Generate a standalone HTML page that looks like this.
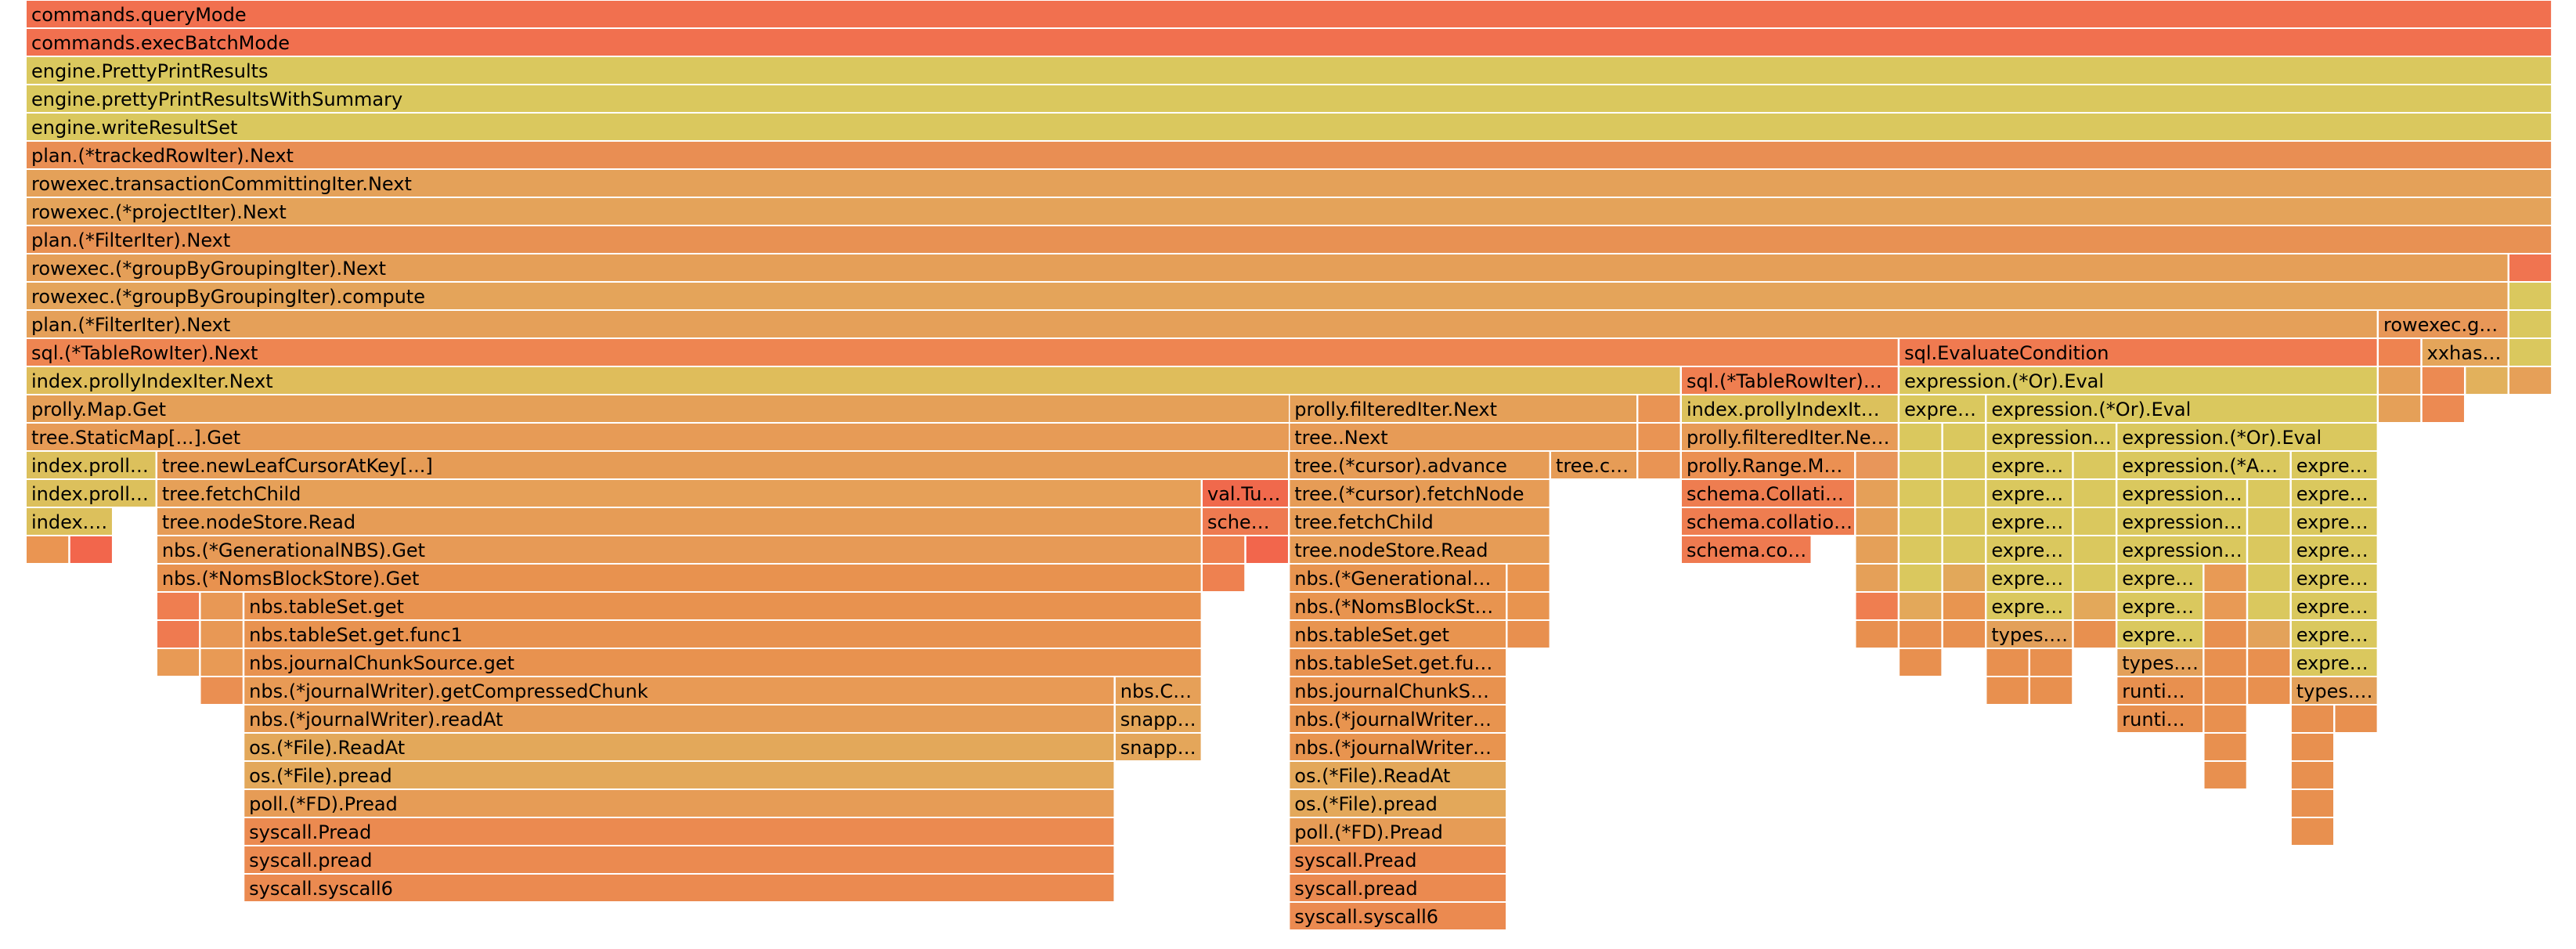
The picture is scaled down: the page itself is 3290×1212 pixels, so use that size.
<!DOCTYPE html>
<html><head><meta charset="utf-8"><style>
html,body{margin:0;padding:0;background:#fff;}
svg{display:block;}
text{font-family:"DejaVu Sans","Liberation Sans",sans-serif;font-size:24px;fill:#000;}
</style></head><body>
<svg xmlns="http://www.w3.org/2000/svg" width="3290" height="1212" viewBox="0 0 3290 1212">
<rect width="3290" height="1212" fill="#fff"/>
<!-- r0 -->
<svg x="34" y="1" width="3224.24" height="34"><rect width="100%" height="100%" fill="#f1704f"/><text x="6" y="26">commands.queryMode</text></svg>
<!-- r1 -->
<svg x="34" y="37" width="3224.24" height="34"><rect width="100%" height="100%" fill="#f1704f"/><text x="6" y="26">commands.execBatchMode</text></svg>
<!-- r2-4 -->
<svg x="34" y="73" width="3224.24" height="34"><rect width="100%" height="100%" fill="#dac85e"/><text x="6" y="26">engine.PrettyPrintResults</text></svg>
<svg x="34" y="109" width="3224.24" height="34"><rect width="100%" height="100%" fill="#dac85e"/><text x="6" y="26">engine.prettyPrintResultsWithSummary</text></svg>
<svg x="34" y="145" width="3224.24" height="34"><rect width="100%" height="100%" fill="#dac85e"/><text x="6" y="26">engine.writeResultSet</text></svg>
<!-- r5-8 -->
<svg x="34" y="181" width="3224.24" height="34"><rect width="100%" height="100%" fill="#e98e53"/><text x="6" y="26">plan.(*trackedRowIter).Next</text></svg>
<svg x="34" y="217" width="3224.24" height="34"><rect width="100%" height="100%" fill="#e4a159"/><text x="6" y="26">rowexec.transactionCommittingIter.Next</text></svg>
<svg x="34" y="253" width="3224.24" height="34"><rect width="100%" height="100%" fill="#e4a35a"/><text x="6" y="26">rowexec.(*projectIter).Next</text></svg>
<svg x="34" y="289" width="3224.24" height="34"><rect width="100%" height="100%" fill="#e89153"/><text x="6" y="26">plan.(*FilterIter).Next</text></svg>
<!-- r9 -->
<svg x="34" y="325" width="3168.61" height="34"><rect width="100%" height="100%" fill="#e59f58"/><text x="6" y="26">rowexec.(*groupByGroupingIter).Next</text></svg>
<svg x="3204.91" y="325" width="53.33" height="34"><rect width="100%" height="100%" fill="#f07450"/></svg>
<!-- r10 -->
<svg x="34" y="361" width="3168.61" height="34"><rect width="100%" height="100%" fill="#e4a45a"/><text x="6" y="26">rowexec.(*groupByGroupingIter).compute</text></svg>
<svg x="3204.91" y="361" width="53.33" height="34"><rect width="100%" height="100%" fill="#dac85e"/></svg>
<!-- r11 -->
<svg x="34" y="397" width="3001.72" height="34"><rect width="100%" height="100%" fill="#e5a059"/><text x="6" y="26">plan.(*FilterIter).Next</text></svg>
<svg x="3038.02" y="397" width="164.59" height="34"><rect width="100%" height="100%" fill="#e89757"/><text x="6" y="26">rowexec.g…</text></svg>
<svg x="3204.91" y="397" width="53.33" height="34"><rect width="100%" height="100%" fill="#dac85e"/></svg>
<!-- r12 -->
<svg x="34" y="433" width="2389.79" height="34"><rect width="100%" height="100%" fill="#ee8551"/><text x="6" y="26">sql.(*TableRowIter).Next</text></svg>
<svg x="2426.09" y="433" width="609.63" height="34"><rect width="100%" height="100%" fill="#f07a50"/><text x="6" y="26">sql.EvaluateCondition</text></svg>
<svg x="3038.02" y="433" width="53.33" height="34"><rect width="100%" height="100%" fill="#ee8350"/></svg>
<svg x="3093.65" y="433" width="108.96" height="34"><rect width="100%" height="100%" fill="#e4a55a"/><text x="6" y="26">xxhas…</text></svg>
<svg x="3204.91" y="433" width="53.33" height="34"><rect width="100%" height="100%" fill="#dac85e"/></svg>
<!-- r13 -->
<svg x="34" y="469" width="2111.64" height="34"><rect width="100%" height="100%" fill="#dfbd5b"/><text x="6" y="26">index.prollyIndexIter.Next</text></svg>
<svg x="2147.94" y="469" width="275.85" height="34"><rect width="100%" height="100%" fill="#ef7e50"/><text x="6" y="26">sql.(*TableRowIter)…</text></svg>
<svg x="2426.09" y="469" width="609.63" height="34"><rect width="100%" height="100%" fill="#dac85e"/><text x="6" y="26">expression.(*Or).Eval</text></svg>
<svg x="3038.02" y="469" width="53.33" height="34"><rect width="100%" height="100%" fill="#e5a058"/></svg>
<svg x="3093.65" y="469" width="53.33" height="34"><rect width="100%" height="100%" fill="#ec8a52"/></svg>
<svg x="3149.28" y="469" width="53.33" height="34"><rect width="100%" height="100%" fill="#e2b15c"/></svg>
<svg x="3204.91" y="469" width="53.33" height="34"><rect width="100%" height="100%" fill="#e6a058"/></svg>
<!-- r14 -->
<svg x="34" y="505" width="1611.97" height="34"><rect width="100%" height="100%" fill="#e5a058"/><text x="6" y="26">prolly.Map.Get</text></svg>
<svg x="1647.27" y="505" width="442.74" height="34"><rect width="100%" height="100%" fill="#e5a058"/><text x="6" y="26">prolly.filteredIter.Next</text></svg>
<svg x="2092.31" y="505" width="53.33" height="34"><rect width="100%" height="100%" fill="#e99454"/></svg>
<svg x="2147.94" y="505" width="275.85" height="34"><rect width="100%" height="100%" fill="#dcc15c"/><text x="6" y="26">index.prollyIndexIt…</text></svg>
<svg x="2426.09" y="505" width="108.96" height="34"><rect width="100%" height="100%" fill="#dac85e"/><text x="6" y="26">expre…</text></svg>
<svg x="2537.35" y="505" width="498.37" height="34"><rect width="100%" height="100%" fill="#dac85e"/><text x="6" y="26">expression.(*Or).Eval</text></svg>
<svg x="3038.02" y="505" width="53.33" height="34"><rect width="100%" height="100%" fill="#e5a058"/></svg>
<svg x="3093.65" y="505" width="53.33" height="34"><rect width="100%" height="100%" fill="#ec8a52"/></svg>
<!-- r15 -->
<svg x="34" y="541" width="1611.97" height="34"><rect width="100%" height="100%" fill="#e79b56"/><text x="6" y="26">tree.StaticMap[...].Get</text></svg>
<svg x="1647.27" y="541" width="442.74" height="34"><rect width="100%" height="100%" fill="#e79b56"/><text x="6" y="26">tree..Next</text></svg>
<svg x="2092.31" y="541" width="53.33" height="34"><rect width="100%" height="100%" fill="#e99454"/></svg>
<svg x="2147.94" y="541" width="275.85" height="34"><rect width="100%" height="100%" fill="#e79b56"/><text x="6" y="26">prolly.filteredIter.Ne…</text></svg>
<svg x="2426.09" y="541" width="53.33" height="34"><rect width="100%" height="100%" fill="#dac85e"/></svg>
<svg x="2481.72" y="541" width="53.33" height="34"><rect width="100%" height="100%" fill="#dac85e"/></svg>
<svg x="2537.35" y="541" width="164.59" height="34"><rect width="100%" height="100%" fill="#dac85e"/><text x="6" y="26">expression…</text></svg>
<svg x="2704.24" y="541" width="331.48" height="34"><rect width="100%" height="100%" fill="#dac85e"/><text x="6" y="26">expression.(*Or).Eval</text></svg>
<!-- r16 -->
<svg x="34" y="577" width="164.59" height="34"><rect width="100%" height="100%" fill="#dcc05c"/><text x="6" y="26">index.proll…</text></svg>
<svg x="200.89" y="577" width="1444.08" height="34"><rect width="100%" height="100%" fill="#e69c56"/><text x="6" y="26">tree.newLeafCursorAtKey[...]</text></svg>
<svg x="1647.27" y="577" width="331.48" height="34"><rect width="100%" height="100%" fill="#e69c56"/><text x="6" y="26">tree.(*cursor).advance</text></svg>
<svg x="1981.05" y="577" width="108.96" height="34"><rect width="100%" height="100%" fill="#e69c56"/><text x="6" y="26">tree.c…</text></svg>
<svg x="2092.31" y="577" width="53.33" height="34"><rect width="100%" height="100%" fill="#e99454"/></svg>
<svg x="2147.94" y="577" width="220.22" height="34"><rect width="100%" height="100%" fill="#eb9052"/><text x="6" y="26">prolly.Range.M…</text></svg>
<svg x="2370.46" y="577" width="53.33" height="34"><rect width="100%" height="100%" fill="#e8965a"/></svg>
<svg x="2426.09" y="577" width="53.33" height="34"><rect width="100%" height="100%" fill="#dac85e"/></svg>
<svg x="2481.72" y="577" width="53.33" height="34"><rect width="100%" height="100%" fill="#dac85e"/></svg>
<svg x="2537.35" y="577" width="108.96" height="34"><rect width="100%" height="100%" fill="#dac85e"/><text x="6" y="26">expre…</text></svg>
<svg x="2648.61" y="577" width="53.33" height="34"><rect width="100%" height="100%" fill="#dac85e"/></svg>
<svg x="2704.24" y="577" width="220.22" height="34"><rect width="100%" height="100%" fill="#dac85e"/><text x="6" y="26">expression.(*A…</text></svg>
<svg x="2926.76" y="577" width="108.96" height="34"><rect width="100%" height="100%" fill="#dac85e"/><text x="6" y="26">expre…</text></svg>
<!-- r17 -->
<svg x="34" y="613" width="164.59" height="34"><rect width="100%" height="100%" fill="#dcc05c"/><text x="6" y="26">index.proll…</text></svg>
<svg x="200.89" y="613" width="1332.82" height="34"><rect width="100%" height="100%" fill="#e6a058"/><text x="6" y="26">tree.fetchChild</text></svg>
<svg x="1536.01" y="613" width="108.96" height="34"><rect width="100%" height="100%" fill="#f0694c"/><text x="6" y="26">val.Tu…</text></svg>
<svg x="1647.27" y="613" width="331.48" height="34"><rect width="100%" height="100%" fill="#e69c56"/><text x="6" y="26">tree.(*cursor).fetchNode</text></svg>
<svg x="2147.94" y="613" width="220.22" height="34"><rect width="100%" height="100%" fill="#ee7d50"/><text x="6" y="26">schema.Collati…</text></svg>
<svg x="2370.46" y="613" width="53.33" height="34"><rect width="100%" height="100%" fill="#e5a058"/></svg>
<svg x="2426.09" y="613" width="53.33" height="34"><rect width="100%" height="100%" fill="#dac85e"/></svg>
<svg x="2481.72" y="613" width="53.33" height="34"><rect width="100%" height="100%" fill="#dac85e"/></svg>
<svg x="2537.35" y="613" width="108.96" height="34"><rect width="100%" height="100%" fill="#dac85e"/><text x="6" y="26">expre…</text></svg>
<svg x="2648.61" y="613" width="53.33" height="34"><rect width="100%" height="100%" fill="#dac85e"/></svg>
<svg x="2704.24" y="613" width="164.59" height="34"><rect width="100%" height="100%" fill="#dac85e"/><text x="6" y="26">expression…</text></svg>
<svg x="2871.13" y="613" width="53.33" height="34"><rect width="100%" height="100%" fill="#dac85e"/></svg>
<svg x="2926.76" y="613" width="108.96" height="34"><rect width="100%" height="100%" fill="#dac85e"/><text x="6" y="26">expre…</text></svg>
<!-- r18 -->
<svg x="34" y="649" width="108.96" height="34"><rect width="100%" height="100%" fill="#dcc05c"/><text x="6" y="26">index.…</text></svg>
<svg x="200.89" y="649" width="1332.82" height="34"><rect width="100%" height="100%" fill="#e69c56"/><text x="6" y="26">tree.nodeStore.Read</text></svg>
<svg x="1536.01" y="649" width="108.96" height="34"><rect width="100%" height="100%" fill="#ee7a50"/><text x="6" y="26">sche…</text></svg>
<svg x="1647.27" y="649" width="331.48" height="34"><rect width="100%" height="100%" fill="#e69c56"/><text x="6" y="26">tree.fetchChild</text></svg>
<svg x="2147.94" y="649" width="220.22" height="34"><rect width="100%" height="100%" fill="#ee7d50"/><text x="6" y="26">schema.collatio…</text></svg>
<svg x="2370.46" y="649" width="53.33" height="34"><rect width="100%" height="100%" fill="#e5a058"/></svg>
<svg x="2426.09" y="649" width="53.33" height="34"><rect width="100%" height="100%" fill="#dac85e"/></svg>
<svg x="2481.72" y="649" width="53.33" height="34"><rect width="100%" height="100%" fill="#dac85e"/></svg>
<svg x="2537.35" y="649" width="108.96" height="34"><rect width="100%" height="100%" fill="#dac85e"/><text x="6" y="26">expre…</text></svg>
<svg x="2648.61" y="649" width="53.33" height="34"><rect width="100%" height="100%" fill="#dac85e"/></svg>
<svg x="2704.24" y="649" width="164.59" height="34"><rect width="100%" height="100%" fill="#dac85e"/><text x="6" y="26">expression…</text></svg>
<svg x="2871.13" y="649" width="53.33" height="34"><rect width="100%" height="100%" fill="#dac85e"/></svg>
<svg x="2926.76" y="649" width="108.96" height="34"><rect width="100%" height="100%" fill="#dac85e"/><text x="6" y="26">expre…</text></svg>
<!-- r19 -->
<svg x="34" y="685" width="53.33" height="34"><rect width="100%" height="100%" fill="#ea9552"/></svg>
<svg x="89.63" y="685" width="53.33" height="34"><rect width="100%" height="100%" fill="#f2664c"/></svg>
<svg x="200.89" y="685" width="1332.82" height="34"><rect width="100%" height="100%" fill="#e79a56"/><text x="6" y="26">nbs.(*GenerationalNBS).Get</text></svg>
<svg x="1536.01" y="685" width="53.33" height="34"><rect width="100%" height="100%" fill="#ee8150"/></svg>
<svg x="1591.64" y="685" width="53.33" height="34"><rect width="100%" height="100%" fill="#f2664c"/></svg>
<svg x="1647.27" y="685" width="331.48" height="34"><rect width="100%" height="100%" fill="#e69c56"/><text x="6" y="26">tree.nodeStore.Read</text></svg>
<svg x="2147.94" y="685" width="164.59" height="34"><rect width="100%" height="100%" fill="#ef7a50"/><text x="6" y="26">schema.co…</text></svg>
<svg x="2370.46" y="685" width="53.33" height="34"><rect width="100%" height="100%" fill="#e5a058"/></svg>
<svg x="2426.09" y="685" width="53.33" height="34"><rect width="100%" height="100%" fill="#dac85e"/></svg>
<svg x="2481.72" y="685" width="53.33" height="34"><rect width="100%" height="100%" fill="#dac85e"/></svg>
<svg x="2537.35" y="685" width="108.96" height="34"><rect width="100%" height="100%" fill="#dac85e"/><text x="6" y="26">expre…</text></svg>
<svg x="2648.61" y="685" width="53.33" height="34"><rect width="100%" height="100%" fill="#dac85e"/></svg>
<svg x="2704.24" y="685" width="164.59" height="34"><rect width="100%" height="100%" fill="#dac85e"/><text x="6" y="26">expression…</text></svg>
<svg x="2871.13" y="685" width="53.33" height="34"><rect width="100%" height="100%" fill="#dac85e"/></svg>
<svg x="2926.76" y="685" width="108.96" height="34"><rect width="100%" height="100%" fill="#dac85e"/><text x="6" y="26">expre…</text></svg>
<!-- r20 -->
<svg x="200.89" y="721" width="1332.82" height="34"><rect width="100%" height="100%" fill="#e8924f"/><text x="6" y="26">nbs.(*NomsBlockStore).Get</text></svg>
<svg x="1536.01" y="721" width="53.33" height="34"><rect width="100%" height="100%" fill="#ee8150"/></svg>
<svg x="1647.27" y="721" width="275.85" height="34"><rect width="100%" height="100%" fill="#e8944f"/><text x="6" y="26">nbs.(*Generational…</text></svg>
<svg x="1925.42" y="721" width="53.33" height="34"><rect width="100%" height="100%" fill="#e8944f"/></svg>
<svg x="2370.46" y="721" width="53.33" height="34"><rect width="100%" height="100%" fill="#e5a058"/></svg>
<svg x="2426.09" y="721" width="53.33" height="34"><rect width="100%" height="100%" fill="#dac85e"/></svg>
<svg x="2481.72" y="721" width="53.33" height="34"><rect width="100%" height="100%" fill="#e2a85a"/></svg>
<svg x="2537.35" y="721" width="108.96" height="34"><rect width="100%" height="100%" fill="#dac85e"/><text x="6" y="26">expre…</text></svg>
<svg x="2648.61" y="721" width="53.33" height="34"><rect width="100%" height="100%" fill="#dac85e"/></svg>
<svg x="2704.24" y="721" width="108.96" height="34"><rect width="100%" height="100%" fill="#dac85e"/><text x="6" y="26">expre…</text></svg>
<svg x="2815.5" y="721" width="53.33" height="34"><rect width="100%" height="100%" fill="#e89a55"/></svg>
<svg x="2871.13" y="721" width="53.33" height="34"><rect width="100%" height="100%" fill="#dac85e"/></svg>
<svg x="2926.76" y="721" width="108.96" height="34"><rect width="100%" height="100%" fill="#dac85e"/><text x="6" y="26">expre…</text></svg>
<!-- r21 -->
<svg x="200.89" y="757" width="53.33" height="34"><rect width="100%" height="100%" fill="#ef7e50"/></svg>
<svg x="256.52" y="757" width="53.33" height="34"><rect width="100%" height="100%" fill="#e89855"/></svg>
<svg x="312.15" y="757" width="1221.56" height="34"><rect width="100%" height="100%" fill="#e8924f"/><text x="6" y="26">nbs.tableSet.get</text></svg>
<svg x="1647.27" y="757" width="275.85" height="34"><rect width="100%" height="100%" fill="#e8944f"/><text x="6" y="26">nbs.(*NomsBlockSt…</text></svg>
<svg x="1925.42" y="757" width="53.33" height="34"><rect width="100%" height="100%" fill="#e8944f"/></svg>
<svg x="2370.46" y="757" width="53.33" height="34"><rect width="100%" height="100%" fill="#ef7e50"/></svg>
<svg x="2426.09" y="757" width="53.33" height="34"><rect width="100%" height="100%" fill="#e3a85a"/></svg>
<svg x="2481.72" y="757" width="53.33" height="34"><rect width="100%" height="100%" fill="#e89550"/></svg>
<svg x="2537.35" y="757" width="108.96" height="34"><rect width="100%" height="100%" fill="#dac85e"/><text x="6" y="26">expre…</text></svg>
<svg x="2648.61" y="757" width="53.33" height="34"><rect width="100%" height="100%" fill="#e3a85a"/></svg>
<svg x="2704.24" y="757" width="108.96" height="34"><rect width="100%" height="100%" fill="#dac85e"/><text x="6" y="26">expre…</text></svg>
<svg x="2815.5" y="757" width="53.33" height="34"><rect width="100%" height="100%" fill="#e89a55"/></svg>
<svg x="2871.13" y="757" width="53.33" height="34"><rect width="100%" height="100%" fill="#dac85e"/></svg>
<svg x="2926.76" y="757" width="108.96" height="34"><rect width="100%" height="100%" fill="#dac85e"/><text x="6" y="26">expre…</text></svg>
<!-- r22 -->
<svg x="200.89" y="793" width="53.33" height="34"><rect width="100%" height="100%" fill="#ef7a50"/></svg>
<svg x="256.52" y="793" width="53.33" height="34"><rect width="100%" height="100%" fill="#e89855"/></svg>
<svg x="312.15" y="793" width="1221.56" height="34"><rect width="100%" height="100%" fill="#e8924f"/><text x="6" y="26">nbs.tableSet.get.func1</text></svg>
<svg x="1647.27" y="793" width="275.85" height="34"><rect width="100%" height="100%" fill="#e8944f"/><text x="6" y="26">nbs.tableSet.get</text></svg>
<svg x="1925.42" y="793" width="53.33" height="34"><rect width="100%" height="100%" fill="#e8904f"/></svg>
<svg x="2370.46" y="793" width="53.33" height="34"><rect width="100%" height="100%" fill="#e8904f"/></svg>
<svg x="2426.09" y="793" width="53.33" height="34"><rect width="100%" height="100%" fill="#e8904f"/></svg>
<svg x="2481.72" y="793" width="53.33" height="34"><rect width="100%" height="100%" fill="#e8904f"/></svg>
<svg x="2537.35" y="793" width="108.96" height="34"><rect width="100%" height="100%" fill="#e3a05a"/><text x="6" y="26">types.…</text></svg>
<svg x="2648.61" y="793" width="53.33" height="34"><rect width="100%" height="100%" fill="#e8904f"/></svg>
<svg x="2704.24" y="793" width="108.96" height="34"><rect width="100%" height="100%" fill="#dac85e"/><text x="6" y="26">expre…</text></svg>
<svg x="2815.5" y="793" width="53.33" height="34"><rect width="100%" height="100%" fill="#e8904f"/></svg>
<svg x="2871.13" y="793" width="53.33" height="34"><rect width="100%" height="100%" fill="#e3a25a"/></svg>
<svg x="2926.76" y="793" width="108.96" height="34"><rect width="100%" height="100%" fill="#dac85e"/><text x="6" y="26">expre…</text></svg>
<!-- r23 -->
<svg x="200.89" y="829" width="53.33" height="34"><rect width="100%" height="100%" fill="#e89a55"/></svg>
<svg x="256.52" y="829" width="53.33" height="34"><rect width="100%" height="100%" fill="#e89a55"/></svg>
<svg x="312.15" y="829" width="1221.56" height="34"><rect width="100%" height="100%" fill="#e8924f"/><text x="6" y="26">nbs.journalChunkSource.get</text></svg>
<svg x="1647.27" y="829" width="275.85" height="34"><rect width="100%" height="100%" fill="#e8924f"/><text x="6" y="26">nbs.tableSet.get.fu…</text></svg>
<svg x="2426.09" y="829" width="53.33" height="34"><rect width="100%" height="100%" fill="#e8904f"/></svg>
<svg x="2537.35" y="829" width="53.33" height="34"><rect width="100%" height="100%" fill="#e8904f"/></svg>
<svg x="2592.98" y="829" width="53.33" height="34"><rect width="100%" height="100%" fill="#e8904f"/></svg>
<svg x="2704.24" y="829" width="108.96" height="34"><rect width="100%" height="100%" fill="#e3a05a"/><text x="6" y="26">types.…</text></svg>
<svg x="2815.5" y="829" width="53.33" height="34"><rect width="100%" height="100%" fill="#e8904f"/></svg>
<svg x="2871.13" y="829" width="53.33" height="34"><rect width="100%" height="100%" fill="#e8904f"/></svg>
<svg x="2926.76" y="829" width="108.96" height="34"><rect width="100%" height="100%" fill="#dac85e"/><text x="6" y="26">expre…</text></svg>
<!-- r24 -->
<svg x="256.52" y="865" width="53.33" height="34"><rect width="100%" height="100%" fill="#ea8f52"/></svg>
<svg x="312.15" y="865" width="1110.3" height="34"><rect width="100%" height="100%" fill="#e89a55"/><text x="6" y="26">nbs.(*journalWriter).getCompressedChunk</text></svg>
<svg x="1424.75" y="865" width="108.96" height="34"><rect width="100%" height="100%" fill="#e6a058"/><text x="6" y="26">nbs.C…</text></svg>
<svg x="1647.27" y="865" width="275.85" height="34"><rect width="100%" height="100%" fill="#e8924f"/><text x="6" y="26">nbs.journalChunkS…</text></svg>
<svg x="2537.35" y="865" width="53.33" height="34"><rect width="100%" height="100%" fill="#e8904f"/></svg>
<svg x="2592.98" y="865" width="53.33" height="34"><rect width="100%" height="100%" fill="#e8904f"/></svg>
<svg x="2704.24" y="865" width="108.96" height="34"><rect width="100%" height="100%" fill="#e8904f"/><text x="6" y="26">runti…</text></svg>
<svg x="2815.5" y="865" width="53.33" height="34"><rect width="100%" height="100%" fill="#e8904f"/></svg>
<svg x="2871.13" y="865" width="53.33" height="34"><rect width="100%" height="100%" fill="#e8904f"/></svg>
<svg x="2926.76" y="865" width="108.96" height="34"><rect width="100%" height="100%" fill="#e3a05a"/><text x="6" y="26">types.…</text></svg>
<!-- r25 -->
<svg x="312.15" y="901" width="1110.3" height="34"><rect width="100%" height="100%" fill="#e69c56"/><text x="6" y="26">nbs.(*journalWriter).readAt</text></svg>
<svg x="1424.75" y="901" width="108.96" height="34"><rect width="100%" height="100%" fill="#e4a65a"/><text x="6" y="26">snapp…</text></svg>
<svg x="1647.27" y="901" width="275.85" height="34"><rect width="100%" height="100%" fill="#e8944f"/><text x="6" y="26">nbs.(*journalWriter…</text></svg>
<svg x="2704.24" y="901" width="108.96" height="34"><rect width="100%" height="100%" fill="#e8904f"/><text x="6" y="26">runti…</text></svg>
<svg x="2815.5" y="901" width="53.33" height="34"><rect width="100%" height="100%" fill="#e8904f"/></svg>
<svg x="2926.76" y="901" width="53.33" height="34"><rect width="100%" height="100%" fill="#e8904f"/></svg>
<svg x="2982.39" y="901" width="53.33" height="34"><rect width="100%" height="100%" fill="#e8904f"/></svg>
<!-- r26 -->
<svg x="312.15" y="937" width="1110.3" height="34"><rect width="100%" height="100%" fill="#e3a85a"/><text x="6" y="26">os.(*File).ReadAt</text></svg>
<svg x="1424.75" y="937" width="108.96" height="34"><rect width="100%" height="100%" fill="#e4a65a"/><text x="6" y="26">snapp…</text></svg>
<svg x="1647.27" y="937" width="275.85" height="34"><rect width="100%" height="100%" fill="#e8944f"/><text x="6" y="26">nbs.(*journalWriter…</text></svg>
<svg x="2815.5" y="937" width="53.33" height="34"><rect width="100%" height="100%" fill="#e8904f"/></svg>
<svg x="2926.76" y="937" width="53.33" height="34"><rect width="100%" height="100%" fill="#e8904f"/></svg>
<!-- r27 -->
<svg x="312.15" y="973" width="1110.3" height="34"><rect width="100%" height="100%" fill="#e3a85a"/><text x="6" y="26">os.(*File).pread</text></svg>
<svg x="1647.27" y="973" width="275.85" height="34"><rect width="100%" height="100%" fill="#e3a85a"/><text x="6" y="26">os.(*File).ReadAt</text></svg>
<svg x="2815.5" y="973" width="53.33" height="34"><rect width="100%" height="100%" fill="#e8904f"/></svg>
<svg x="2926.76" y="973" width="53.33" height="34"><rect width="100%" height="100%" fill="#e8904f"/></svg>
<!-- r28 -->
<svg x="312.15" y="1009" width="1110.3" height="34"><rect width="100%" height="100%" fill="#e69c56"/><text x="6" y="26">poll.(*FD).Pread</text></svg>
<svg x="1647.27" y="1009" width="275.85" height="34"><rect width="100%" height="100%" fill="#e3a85a"/><text x="6" y="26">os.(*File).pread</text></svg>
<svg x="2926.76" y="1009" width="53.33" height="34"><rect width="100%" height="100%" fill="#e8904f"/></svg>
<!-- r29 -->
<svg x="312.15" y="1045" width="1110.3" height="34"><rect width="100%" height="100%" fill="#eb8a50"/><text x="6" y="26">syscall.Pread</text></svg>
<svg x="1647.27" y="1045" width="275.85" height="34"><rect width="100%" height="100%" fill="#e69c56"/><text x="6" y="26">poll.(*FD).Pread</text></svg>
<svg x="2926.76" y="1045" width="53.33" height="34"><rect width="100%" height="100%" fill="#e8904f"/></svg>
<!-- r30 -->
<svg x="312.15" y="1081" width="1110.3" height="34"><rect width="100%" height="100%" fill="#eb8a50"/><text x="6" y="26">syscall.pread</text></svg>
<svg x="1647.27" y="1081" width="275.85" height="34"><rect width="100%" height="100%" fill="#eb8a50"/><text x="6" y="26">syscall.Pread</text></svg>
<!-- r31 -->
<svg x="312.15" y="1117" width="1110.3" height="34"><rect width="100%" height="100%" fill="#eb8a50"/><text x="6" y="26">syscall.syscall6</text></svg>
<svg x="1647.27" y="1117" width="275.85" height="34"><rect width="100%" height="100%" fill="#eb8a50"/><text x="6" y="26">syscall.pread</text></svg>
<!-- r32 -->
<svg x="1647.27" y="1153" width="275.85" height="34"><rect width="100%" height="100%" fill="#eb8a50"/><text x="6" y="26">syscall.syscall6</text></svg>
</svg>
</body></html>
